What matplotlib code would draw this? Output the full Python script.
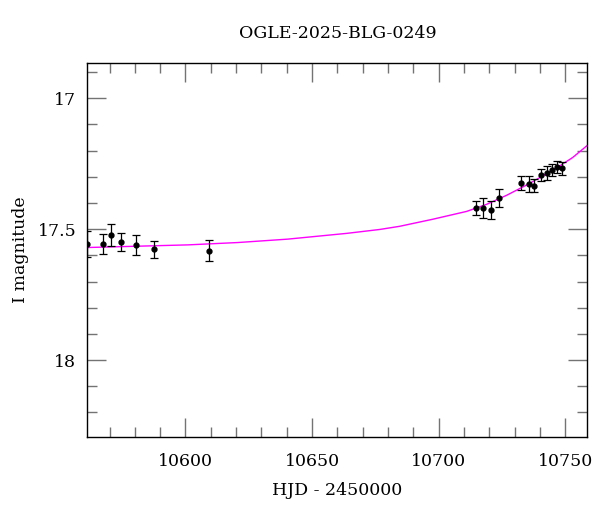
import matplotlib
matplotlib.use("Agg")
import matplotlib.pyplot as plt
from matplotlib.ticker import MultipleLocator

# photometry (HJD - 2450000, I mag, error)
hjd = [10561.2, 10567.4, 10570.5, 10574.5, 10580.4, 10587.5, 10609.2,
       10714.7, 10717.5, 10720.6, 10723.8, 10732.5, 10735.6, 10737.6,
       10740.4, 10742.7, 10744.7, 10746.7, 10748.7]
mag = [17.557, 17.558, 17.521, 17.548, 17.561, 17.577, 17.583,
       17.418, 17.420, 17.426, 17.380, 17.325, 17.326, 17.334,
       17.293, 17.284, 17.275, 17.264, 17.267]
err = [0.049, 0.038, 0.042, 0.034, 0.038, 0.032, 0.040,
       0.026, 0.038, 0.034, 0.034, 0.027, 0.031, 0.025,
       0.023, 0.027, 0.023, 0.023, 0.025]

# model curve, sampled by eye along the magenta line
model_t = [10561.5, 10581.2, 10600.9, 10620.7, 10640.4, 10663.7, 10676.8,
           10684.6, 10697.7, 10711.1, 10719.0, 10727.0, 10734.8, 10740.0,
           10747.9, 10753.0, 10759.0]
model_m = [17.570, 17.565, 17.560, 17.551, 17.538, 17.516, 17.501,
           17.489, 17.462, 17.432, 17.405, 17.370, 17.331, 17.303,
           17.258, 17.226, 17.178]

serif = "DejaVu Serif"

fig = plt.figure(figsize=(6, 5.12), dpi=100)
ax = fig.add_axes([0.1455, 0.147, 0.8335, 0.7305])

ax.plot(model_t, model_m, color="#ff00ff", lw=1.0, zorder=2)
ax.errorbar(hjd, mag, yerr=err, fmt="o", color="black", ms=3.5,
            ecolor="black", elinewidth=0.9, capsize=3, capthick=0.9, zorder=3)

ax.set_xlim(10561.2, 10758.8)
ax.set_ylim(18.293, 16.864)

ax.xaxis.set_major_locator(MultipleLocator(50))
ax.xaxis.set_minor_locator(MultipleLocator(10))
ax.yaxis.set_major_locator(MultipleLocator(0.5))
ax.yaxis.set_minor_locator(MultipleLocator(0.1))
ax.yaxis.set_major_formatter(plt.FuncFormatter(lambda v, p: f"{v:g}"))

ax.tick_params(which="both", direction="in", top=True, right=True,
               color="0.45", width=1.0)
ax.tick_params(which="major", length=14)
ax.tick_params(which="minor", length=7)
ax.tick_params(axis="x", which="major", pad=12, labelsize=12.5)
ax.tick_params(axis="y", which="major", pad=8, labelsize=12.5)
for lab in ax.get_xticklabels() + ax.get_yticklabels():
    lab.set_family(serif)

for s in ax.spines.values():
    s.set_linewidth(1.0)

ax.set_title("OGLE-2025-BLG-0249", fontsize=12.5, family=serif, pad=18)
ax.set_xlabel("HJD - 2450000", fontsize=12.5, family=serif, labelpad=8)
ax.set_ylabel("I magnitude", fontsize=12.5, family=serif, labelpad=6)

fig.savefig("out.png", dpi=100)
